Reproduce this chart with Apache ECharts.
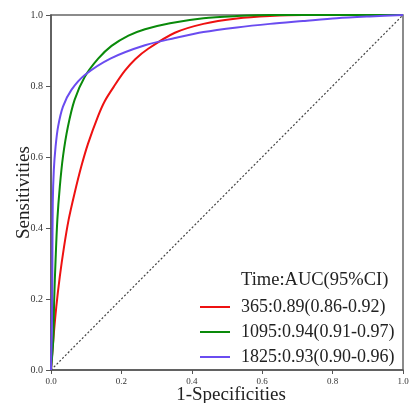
<!DOCTYPE html>
<html><head><meta charset="utf-8">
<script src="https://cdn.jsdelivr.net/npm/echarts@6/dist/echarts.min.js"></script>
<style>html,body{margin:0;padding:0;background:#fff}#c{width:415px;height:403px}</style>
</head><body><div id="c"></div>
<script>
var names = ['365:0.89(0.86-0.92)', '1095:0.94(0.91-0.97)', '1825:0.93(0.90-0.96)'];
var legendTitle = 'Time:AUC(95%CI)';
var tickLabels = ['0.0','0.2','0.4','0.6','0.8','1.0'];

var fpr365 = [0, 0.0065, 0.015, 0.025, 0.037, 0.050, 0.067, 0.086, 0.105, 0.134, 0.153, 0.181, 0.210, 0.240, 0.276, 0.352, 0.433, 0.528, 0.622, 0.716, 1];
var tpr365 = [0, 0.085, 0.178, 0.263, 0.347, 0.423, 0.498, 0.573, 0.637, 0.716, 0.758, 0.802, 0.843, 0.876, 0.905, 0.950, 0.975, 0.990, 0.997, 1.0, 1];

var fpr1095 = [0, 0.0065, 0.009, 0.013, 0.018, 0.025, 0.034, 0.048, 0.067, 0.096, 0.134, 0.172, 0.220, 0.267, 0.338, 0.433, 0.528, 0.622, 1];
var tpr1095 = [0, 0.085, 0.197, 0.310, 0.423, 0.516, 0.601, 0.685, 0.761, 0.826, 0.877, 0.913, 0.942, 0.960, 0.977, 0.991, 0.997, 1.0, 1];

var fpr1825 = [0, 0.003, 0.004, 0.005, 0.008, 0.013, 0.020, 0.034, 0.058, 0.096, 0.170, 0.267, 0.352, 0.433, 0.528, 0.622, 0.716, 0.812, 0.906, 1];
var tpr1825 = [0, 0.15, 0.31, 0.470, 0.563, 0.629, 0.685, 0.742, 0.789, 0.831, 0.878, 0.915, 0.935, 0.952, 0.965, 0.975, 0.983, 0.991, 0.996, 1];

var diagX = [0, 1];
var diagY = [0, 1];

var colors = ['#ee1111', '#0a8a0a', '#6a4cf0'];

function pairs(xs, ys){ return xs.map(function(x,i){return [x, ys[i]];}); }

var serif = 'Liberation Serif';
var chart = echarts.init(document.getElementById('c'));
var mk = function(i, xs, ys){
  return {name: names[i], type:'line', data: pairs(xs, ys), showSymbol:false, symbol:'none',
    smooth:0.3, lineStyle:{color:colors[i], width:2}, itemStyle:{color:colors[i]}, z:3};
};
chart.setOption({
  animation:false,
  backgroundColor:'#fff',
  title:{text:legendTitle, left:236, top:266, textStyle:{fontFamily:serif, fontSize:18.5, fontWeight:'normal', color:'#222'}},
  legend:{orient:'vertical', left:195, top:293, icon:'rect', itemWidth:30, itemHeight:2, itemGap:7,
    data:names, textStyle:{fontFamily:serif, fontSize:18, color:'#222', padding:[0,0,0,6]}},
  grid:{left:51, right:12, top:15, bottom:33, outerBoundsMode:'none', containLabel:false, show:true, borderColor:'#666', borderWidth:1.5, backgroundColor:'transparent'},
  xAxis:{type:'value', min:0, max:1, interval:0.2,
    name:'1-Specificities', nameLocation:'middle', nameGap:16, nameMoveOverlap:false,
    nameTextStyle:{fontFamily:serif, fontSize:19, color:'#222', padding:[0,0,0,8]},
    axisLine:{show:true, lineStyle:{color:'#555', width:1.5}},
    axisTick:{show:true, length:4, lineStyle:{color:'#555'}},
    axisLabel:{fontFamily:serif, fontSize:9, color:'#333', margin:7, formatter:function(v){return tickLabels[Math.round(v*5)];}},
    splitLine:{show:false}},
  yAxis:{type:'value', min:0, max:1, interval:0.2,
    name:'Sensitivities', nameLocation:'middle', nameGap:17, nameMoveOverlap:false,
    nameTextStyle:{fontFamily:serif, fontSize:19, color:'#222'},
    axisLine:{show:true, lineStyle:{color:'#555', width:1.5}},
    axisTick:{show:true, length:5, lineStyle:{color:'#555'}},
    axisLabel:{fontFamily:serif, fontSize:10, color:'#333', margin:8, formatter:function(v){return tickLabels[Math.round(v*5)];}},
    splitLine:{show:false}},
  series:[
    {name:'diag', type:'line', data:pairs(diagX, diagY), showSymbol:false, symbol:'none',
      lineStyle:{color:'#444', width:1.2, type:[2,2]}, z:1, silent:true},
    mk(0, fpr365, tpr365),
    mk(1, fpr1095, tpr1095),
    mk(2, fpr1825, tpr1825)
  ]
});
</script></body></html>
